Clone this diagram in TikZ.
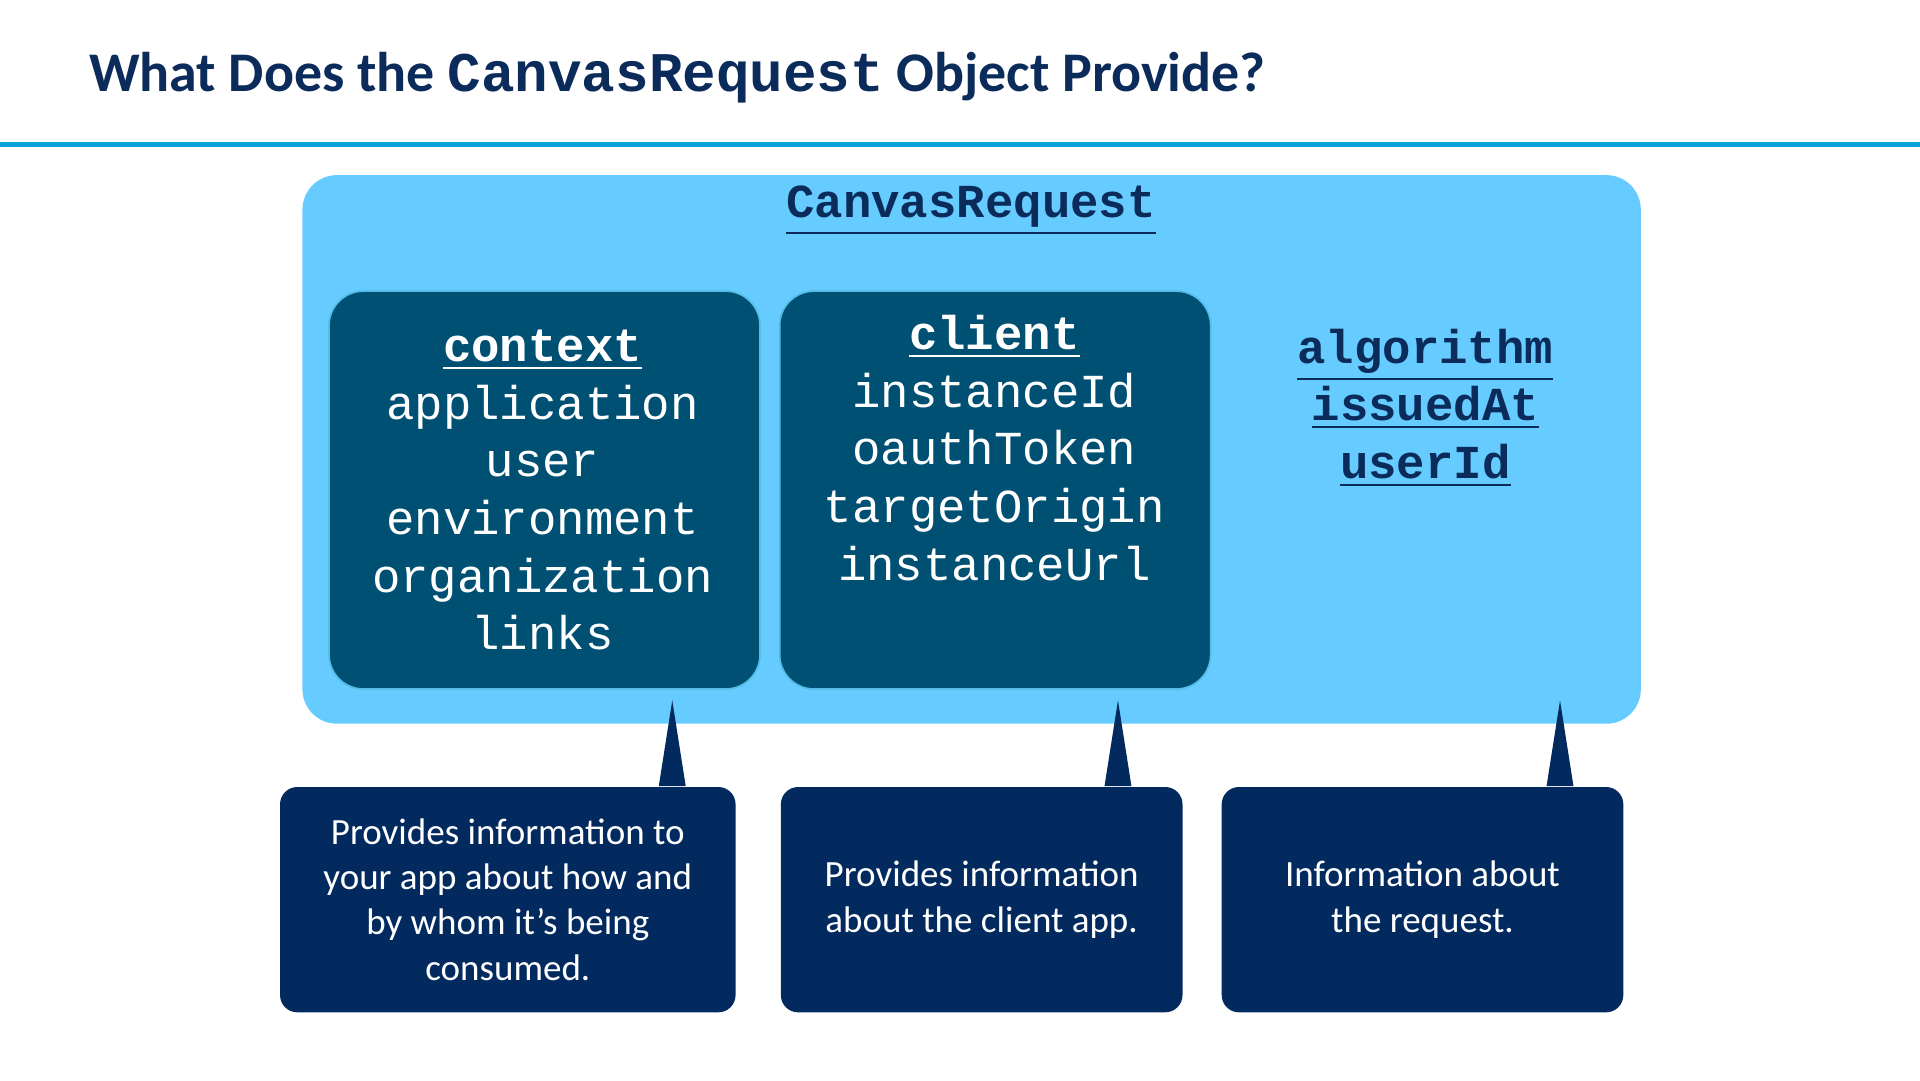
\documentclass[tikz,border=0pt]{standalone}
\usepackage{fontspec}
\setmainfont{Carlito}
\setmonofont{Liberation Mono}
\usetikzlibrary{positioning}
\definecolor{navy}{HTML}{0B2B5B}
\definecolor{rule}{HTML}{0AA0DC}
\definecolor{sky}{HTML}{66CCFF}
\definecolor{teal}{HTML}{005073}
\definecolor{callblue}{HTML}{032A5E}
\tikzset{
  group/.style={fill=teal, draw=rule!70, rounded corners=8pt, minimum width=3.52cm, minimum height=3.25cm, anchor=north west},
  callout/.style={fill=callblue, rounded corners=4pt, minimum height=1.84cm, anchor=north west, text=white, align=center,
    font=\fontsize{8.6}{10.5}\selectfont},
  code/.style={align=center, font=\ttfamily\fontsize{11}{13.4}\selectfont},
}
\newcommand{\fieldhead}[1]{\textbf{\underline{#1}}}
\begin{document}
\begin{tikzpicture}
\useasboundingbox (0,0) rectangle (15.68,-8.82);
% title
\node[anchor=base west, text=navy, font=\bfseries\fontsize{13}{15}\selectfont, inner sep=0] (title) at (0.72,-0.75)
  {What Does the \texttt{CanvasRequest} Object Provide?};
\draw[rule, line width=1.2pt] (0,-1.18) -- (15.68,-1.18);
% outer object
\fill[sky, rounded corners=8pt] (2.47,-1.43) rectangle (13.40,-5.91);
\node[code, text=navy] (canvas) at (7.93,-1.72) {\fieldhead{CanvasRequest}};
% groups
\node[group] (context) at (2.68,-2.37) {};
\node[group] (client) at (6.36,-2.37) {};
\node[code, text=white, anchor=north] at (4.43,-2.57)
  {\fieldhead{context}\\application\\user\\environment\\organization\\links};
\node[code, text=white, anchor=north] at (8.12,-2.45)
  {\fieldhead{client}\\instanceId\\oauthToken\\targetOrigin\\instanceUrl};
\node[code, text=navy, anchor=north] (misc) at (11.64,-2.56)
  {\fieldhead{algorithm}\\\fieldhead{issuedAt}\\\fieldhead{userId}};
% callouts
\node[callout, minimum width=3.72cm] (ctxnote) at (2.28,-6.42)
  {Provides information to\\your app about how and\\by whom it’s being\\consumed.};
\node[callout, minimum width=3.28cm] (clinote) at (6.37,-6.42)
  {Provides information\\about the client app.};
\node[callout, minimum width=3.28cm] (reqnote) at (9.97,-6.42)
  {Information about\\the request.};
\coordinate (ctxtip) at (5.49,-5.72);
\coordinate (clitip) at (9.13,-5.72);
\coordinate (reqtip) at (12.74,-5.72);
\foreach \tip/\note in {ctxtip/ctxnote, clitip/clinote, reqtip/reqnote}
  \fill[callblue] (\tip) -- ([xshift=-0.11cm]\tip |- \note.north) -- ([xshift=0.11cm]\tip |- \note.north) -- cycle;
\end{tikzpicture}
\end{document}
